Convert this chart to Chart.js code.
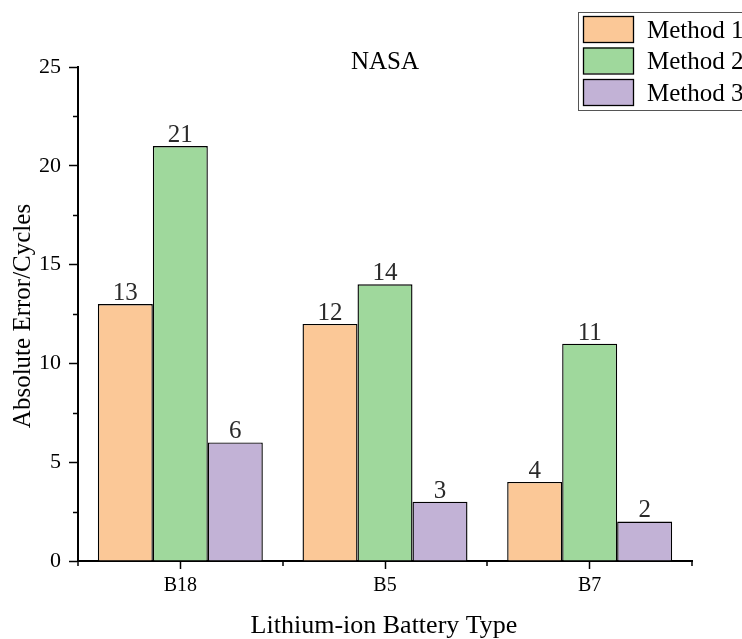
<!DOCTYPE html>
<html>
<head>
<meta charset="utf-8">
<script src="https://cdn.jsdelivr.net/npm/chart.js@4.4.1/dist/chart.umd.min.js"></script>
<style>
  html, body { margin: 0; padding: 0; background: #fff; }
  canvas { display: block; }
</style>
</head>
<body>
<canvas id="chart" width="742" height="639"></canvas>
<script>
// Absolute error (cycles) per battery for three methods
const categories = ['B18', 'B5', 'B7'];
const seriesNames = ['Method 1', 'Method 2', 'Method 3'];
const method1 = [13, 12, 4];
const method2 = [21, 14, 11];
const method3 = [6, 3, 2];
const yMin = 0;
const yMax = 25;
const yStep = 5;

const chartTitle = 'NASA';
const xTitle = 'Lithium-ion Battery Type';
const yTitle = 'Absolute Error/Cycles';

const SERIF = "'Liberation Serif', 'Times New Roman', serif";
const fills = ['#FBC897', '#9FD89C', '#C2B2D6'];

// Extra drawing: minor ticks, value labels, title, axis titles, legend
const decorations = {
  id: 'decorations',
  afterDraw(chart) {
    const ctx = chart.ctx;
    const area = chart.chartArea;
    const x = chart.scales.x;
    const y = chart.scales.y;
    ctx.save();

    // minor ticks on the value axis, halfway between labelled ticks
    ctx.strokeStyle = '#000';
    ctx.lineWidth = 1.5;
    for (let v = yMin + yStep / 2; v < yMax; v += yStep) {
      const py = Math.round(y.getPixelForValue(v)) + 0.5;
      ctx.beginPath();
      ctx.moveTo(area.left - 5, py);
      ctx.lineTo(area.left, py);
      ctx.stroke();
    }
    // minor ticks on the category axis at group boundaries
    const half = (x.getPixelForValue(1) - x.getPixelForValue(0)) / 2;
    for (let i = 0; i <= categories.length; i++) {
      const px = Math.round(x.getPixelForValue(0) - half + i * 2 * half);
      ctx.beginPath();
      ctx.moveTo(px, area.bottom);
      ctx.lineTo(px, area.bottom + 5);
      ctx.stroke();
    }

    // value labels above each bar
    ctx.fillStyle = '#2a2a2a';
    ctx.font = '25px ' + SERIF;
    ctx.textAlign = 'center';
    ctx.textBaseline = 'alphabetic';
    chart.data.datasets.forEach((ds, di) => {
      chart.getDatasetMeta(di).data.forEach((bar, j) => {
        ctx.fillText(String(ds.data[j]), bar.x, bar.y - 4);
      });
    });

    // chart title centred over the plot
    ctx.fillStyle = '#000';
    ctx.font = '25px ' + SERIF;
    ctx.fillText(chartTitle, (area.left + area.right) / 2, 69);

    // axis titles
    ctx.font = '26px ' + SERIF;
    ctx.fillText(xTitle, (area.left + area.right) / 2 - 1, 633);
    ctx.save();
    ctx.font = '25px ' + SERIF;
    ctx.translate(30, (area.top + area.bottom) / 2 + 2);
    ctx.rotate(-Math.PI / 2);
    ctx.fillText(yTitle, 0, 0);
    ctx.restore();

    // legend box in the top-right corner
    const lx = 578, ly = 12;
    ctx.strokeStyle = '#555';
    ctx.lineWidth = 1;
    ctx.strokeRect(lx + 0.5, ly + 0.5, 200, 98);
    ctx.textAlign = 'left';
    ctx.textBaseline = 'middle';
    ctx.font = '25px ' + SERIF;
    chart.data.datasets.forEach((ds, i) => {
      const sy = ly + 4 + i * 31.5;
      ctx.fillStyle = ds.backgroundColor;
      ctx.fillRect(lx + 5, sy, 50, 26);
      ctx.strokeStyle = '#000';
      ctx.lineWidth = 1.3;
      ctx.strokeRect(lx + 5.5, sy + 0.5, 50, 26);
      ctx.fillStyle = '#000';
      ctx.fillText(ds.label, lx + 69, sy + 15);
    });

    ctx.restore();
  }
};

const datasets = [method1, method2, method3].map((values, i) => ({
  label: seriesNames[i],
  data: values,
  backgroundColor: fills[i],
  borderColor: '#000',
  borderWidth: 1.4,
  categoryPercentage: 0.806,
  barPercentage: 1.0
}));

new Chart(document.getElementById('chart'), {
  type: 'bar',
  data: { labels: categories, datasets },
  options: {
    responsive: false,
    animation: false,
    devicePixelRatio: 1,
    layout: { padding: { top: 67, right: 50, left: 0, bottom: 0 } },
    plugins: {
      legend: { display: false },
      title: { display: false },
      tooltip: { enabled: false }
    },
    scales: {
      x: {
        type: 'category',
        offset: true,
        afterFit(scale) { scale.height = 78; },
        grid: {
          offset: false,
          drawOnChartArea: false,
          drawTicks: true,
          tickLength: 8,
          tickColor: '#000',
          tickWidth: 1.5
        },
        border: { display: true, color: '#000', width: 2 },
        ticks: {
          color: '#000',
          font: { family: SERIF, size: 20 },
          padding: 5,
          maxRotation: 0
        }
      },
      y: {
        min: yMin,
        max: yMax,
        afterFit(scale) { scale.width = 78; },
        grid: {
          drawOnChartArea: false,
          drawTicks: true,
          tickLength: 9,
          tickColor: '#000',
          tickWidth: 1.5
        },
        border: { display: true, color: '#000', width: 2 },
        ticks: {
          stepSize: yStep,
          color: '#000',
          font: { family: SERIF, size: 22 },
          padding: 8
        }
      }
    }
  },
  plugins: [decorations]
});
</script>
</body>
</html>
